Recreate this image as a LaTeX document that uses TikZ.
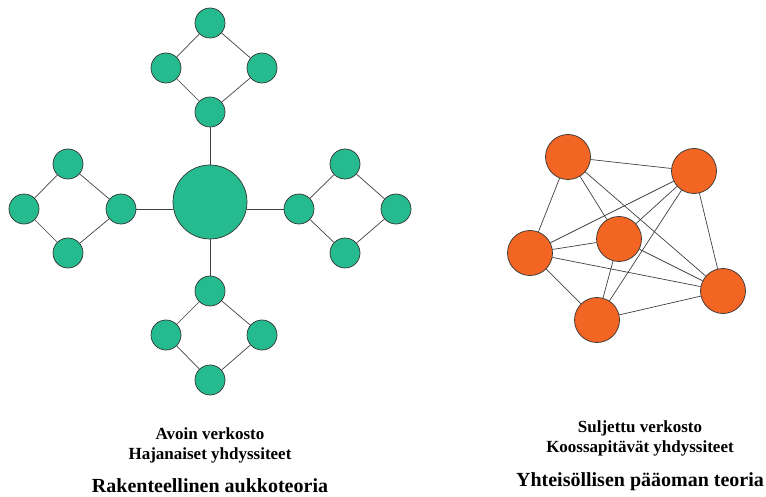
\documentclass[tikz,border=0pt]{standalone}
\usepackage{fontspec}
\setmainfont{Liberation Serif}
\begin{document}
\begin{tikzpicture}[x=1pt,y=-1pt,
  gnode/.style={circle,draw=black!80,line width=0.7pt,fill=green1,minimum size=30pt,inner sep=0pt},
  bignode/.style={gnode,minimum size=74pt},
  onode/.style={circle,draw=black!80,line width=0.7pt,fill=orange1,minimum size=45pt,inner sep=0pt},
  edge/.style={draw=black!75,line width=0.7pt},
  lbl/.style={font=\bfseries\fontsize{17}{20}\selectfont,anchor=base,inner sep=0pt},
  ttl/.style={font=\bfseries\fontsize{20}{22}\selectfont,anchor=base,inner sep=0pt}]
\definecolor{green1}{RGB}{38,187,143}
\definecolor{orange1}{RGB}{242,101,34}
\useasboundingbox (0,0) rectangle (766,497);
% center
\node[bignode] (c) at (210,202) {};
% top diamond
\node[gnode] (t1) at (210,23) {};
\node[gnode] (t2) at (166,68) {};
\node[gnode] (t3) at (262,68) {};
\node[gnode] (t4) at (210,112) {};
% left diamond
\node[gnode] (l1) at (68,164) {};
\node[gnode] (l2) at (24,209) {};
\node[gnode] (l3) at (121,209) {};
\node[gnode] (l4) at (68,253) {};
% right diamond
\node[gnode] (r1) at (345,164) {};
\node[gnode] (r2) at (299,209) {};
\node[gnode] (r3) at (396,209) {};
\node[gnode] (r4) at (345,253) {};
% bottom diamond
\node[gnode] (b1) at (210,291) {};
\node[gnode] (b2) at (166,335) {};
\node[gnode] (b3) at (262,335) {};
\node[gnode] (b4) at (210,380) {};
\foreach \p in {t,l,r,b}{
  \draw[edge] (\p1) -- (\p2) (\p2) -- (\p4) (\p4) -- (\p3) (\p3) -- (\p1);
}
\draw[edge] (t4) -- (c);
\draw[edge] (b1) -- (c);
\draw[edge] (l3) -- (l3 -| c.west);
\draw[edge] (r2) -- (r2 -| c.east);
% orange network
\node[onode] (A) at (568,157) {};
\node[onode] (B) at (694,171) {};
\node[onode] (C) at (530,253) {};
\node[onode] (D) at (619,239) {};
\node[onode] (E) at (723,291) {};
\node[onode] (F) at (597,320) {};
\foreach \u/\v in {A/B,A/C,A/D,A/E,B/C,B/D,B/E,B/F,C/D,C/E,C/F,D/E,D/F,E/F}{
  \draw[edge] (\u) -- (\v);
}
% labels
\node[lbl] (la1) at (210,439) {Avoin verkosto};
\node[lbl] (la2) at (210,459) {Hajanaiset yhdyssiteet};
\node[ttl] (lt) at (210,492) {Rakenteellinen aukkoteoria};
\node[lbl] (ra1) at (640,432) {Suljettu verkosto};
\node[lbl] (ra2) at (640,452) {Koossapitävät yhdyssiteet};
\node[ttl] (rt) at (640,486) {Yhteisöllisen pääoman teoria};
\end{tikzpicture}
\end{document}
